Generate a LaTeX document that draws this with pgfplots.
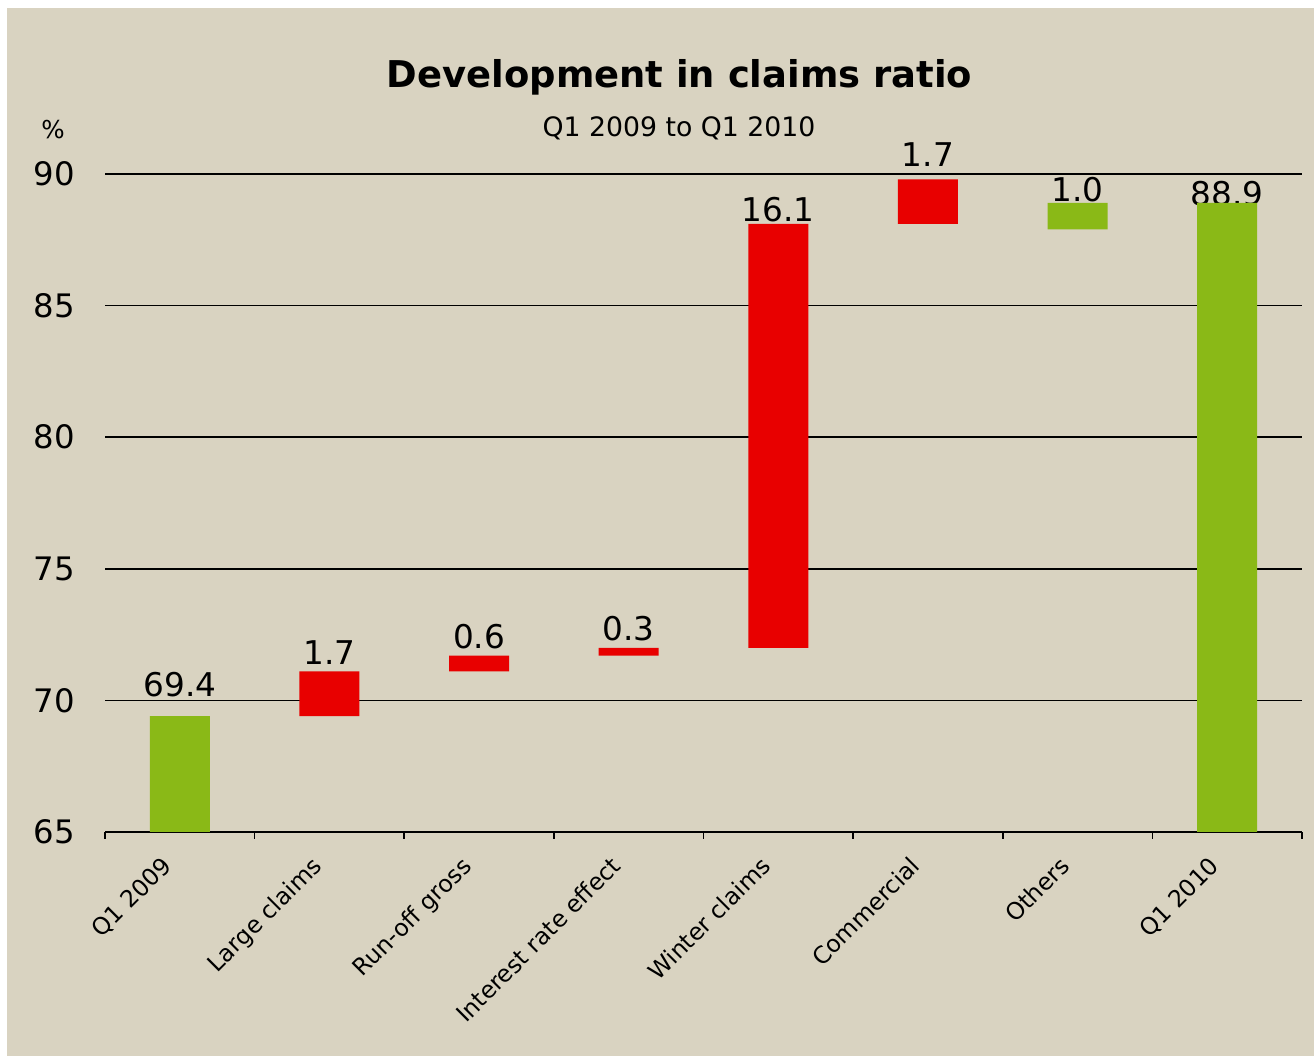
\documentclass[border=0pt]{standalone}
\usepackage{pgfplots}
\pgfplotsset{compat=1.18}
\usepackage{fontspec}
\setmainfont{DejaVu Sans}
\definecolor{bg}{HTML}{D9D3C1}
\definecolor{barred}{HTML}{E80000}
\definecolor{bargreen}{HTML}{8AB917}
\newcommand{\lbl}{\fontsize{9.3}{11}\selectfont}
\newcommand{\ytl}{\fontsize{9.2}{11}\selectfont}
\newcommand{\cat}{\fontsize{6.7}{8}\selectfont}
\begin{document}
\begin{tikzpicture}
\fill[white] (0mm,0mm) rectangle (131.4mm,-105.6mm);
\fill[bg] (0.7mm,-0.8mm) rectangle (131.4mm,-105.6mm);
\node[anchor=base, font=\bfseries\fontsize{10.5}{12}\selectfont] at (67.95mm,-8.7mm) {Development in claims ratio};
\node[anchor=base, font=\fontsize{7.6}{9}\selectfont] at (67.9mm,-13.6mm) {Q1 2009 to Q1 2010};
\node[font=\fontsize{7}{8}\selectfont] at (5.3mm,-13.0mm) {\%};
\begin{axis}[
  at={(10.5mm,-83.2mm)}, anchor=south west,
  scale only axis, width=119.7mm, height=65.8mm,
  xmin=-0.5, xmax=7.5, ymin=65, ymax=90,
  ybar stacked, bar width=6mm,
  xtick={-0.5,0.5,...,7.5}, xticklabels={},
  ytick={65,70,...,90},
  ymajorgrids, grid style={black, line width=0.17mm},
  axis x line*=bottom, axis y line*=left,
  y axis line style={draw=none},
  x axis line style={black, line width=0.17mm, -},
  tick align=outside, major tick length=0.7mm,
  x tick style={black, line width=0.17mm},
  y tick style={draw=none},
  yticklabel style={font=\ytl, text=black, xshift=-1.1mm},
  /pgf/number format/assume math mode=true,
  clip mode=individual,
]
\addplot[draw=none, fill=none] coordinates {(0,0) (1,69.4) (2,71.1) (3,71.7) (4,72.0) (5,88.1) (6,87.9) (7,0)};
\addplot[draw=none, fill=barred] coordinates {(0,0) (1,1.7) (2,0.6) (3,0.3) (4,16.1) (5,1.7) (6,0) (7,0)};
\addplot[draw=none, fill=bargreen] coordinates {(0,69.4) (1,0) (2,0) (3,0) (4,0) (5,0) (6,1.0) (7,88.9)};
\node[anchor=base, font=\lbl] at (axis cs:0,70.13) {69.4};
\node[anchor=base, font=\lbl] at (axis cs:1,71.35) {1.7};
\node[anchor=base, font=\lbl] at (axis cs:2,71.99) {0.6};
\node[anchor=base, font=\lbl] at (axis cs:3,72.29) {0.3};
\node[anchor=base, font=\lbl] at (axis cs:4,88.21) {16.1};
\node[anchor=base, font=\lbl] at (axis cs:5,90.27) {1.7};
\node[anchor=base, font=\lbl] at (axis cs:6,88.97) {1.0};
\node[anchor=base, font=\lbl] at (axis cs:7,88.82) {88.9};
\node[rotate=45, anchor=north east, inner sep=0pt, font=\cat] at (axis cs:-0.127,64.16) {Q1 2009};
\node[rotate=45, anchor=north east, inner sep=0pt, font=\cat] at (axis cs:0.873,64.16) {Large claims};
\node[rotate=45, anchor=north east, inner sep=0pt, font=\cat] at (axis cs:1.873,64.16) {Run-off gross};
\node[rotate=45, anchor=north east, inner sep=0pt, font=\cat] at (axis cs:2.873,64.16) {Interest rate effect};
\node[rotate=45, anchor=north east, inner sep=0pt, font=\cat] at (axis cs:3.873,64.16) {Winter claims};
\node[rotate=45, anchor=north east, inner sep=0pt, font=\cat] at (axis cs:4.873,64.16) {Commercial};
\node[rotate=45, anchor=north east, inner sep=0pt, font=\cat] at (axis cs:5.873,64.16) {Others};
\node[rotate=45, anchor=north east, inner sep=0pt, font=\cat] at (axis cs:6.873,64.16) {Q1 2010};
\end{axis}
\end{tikzpicture}
\end{document}
